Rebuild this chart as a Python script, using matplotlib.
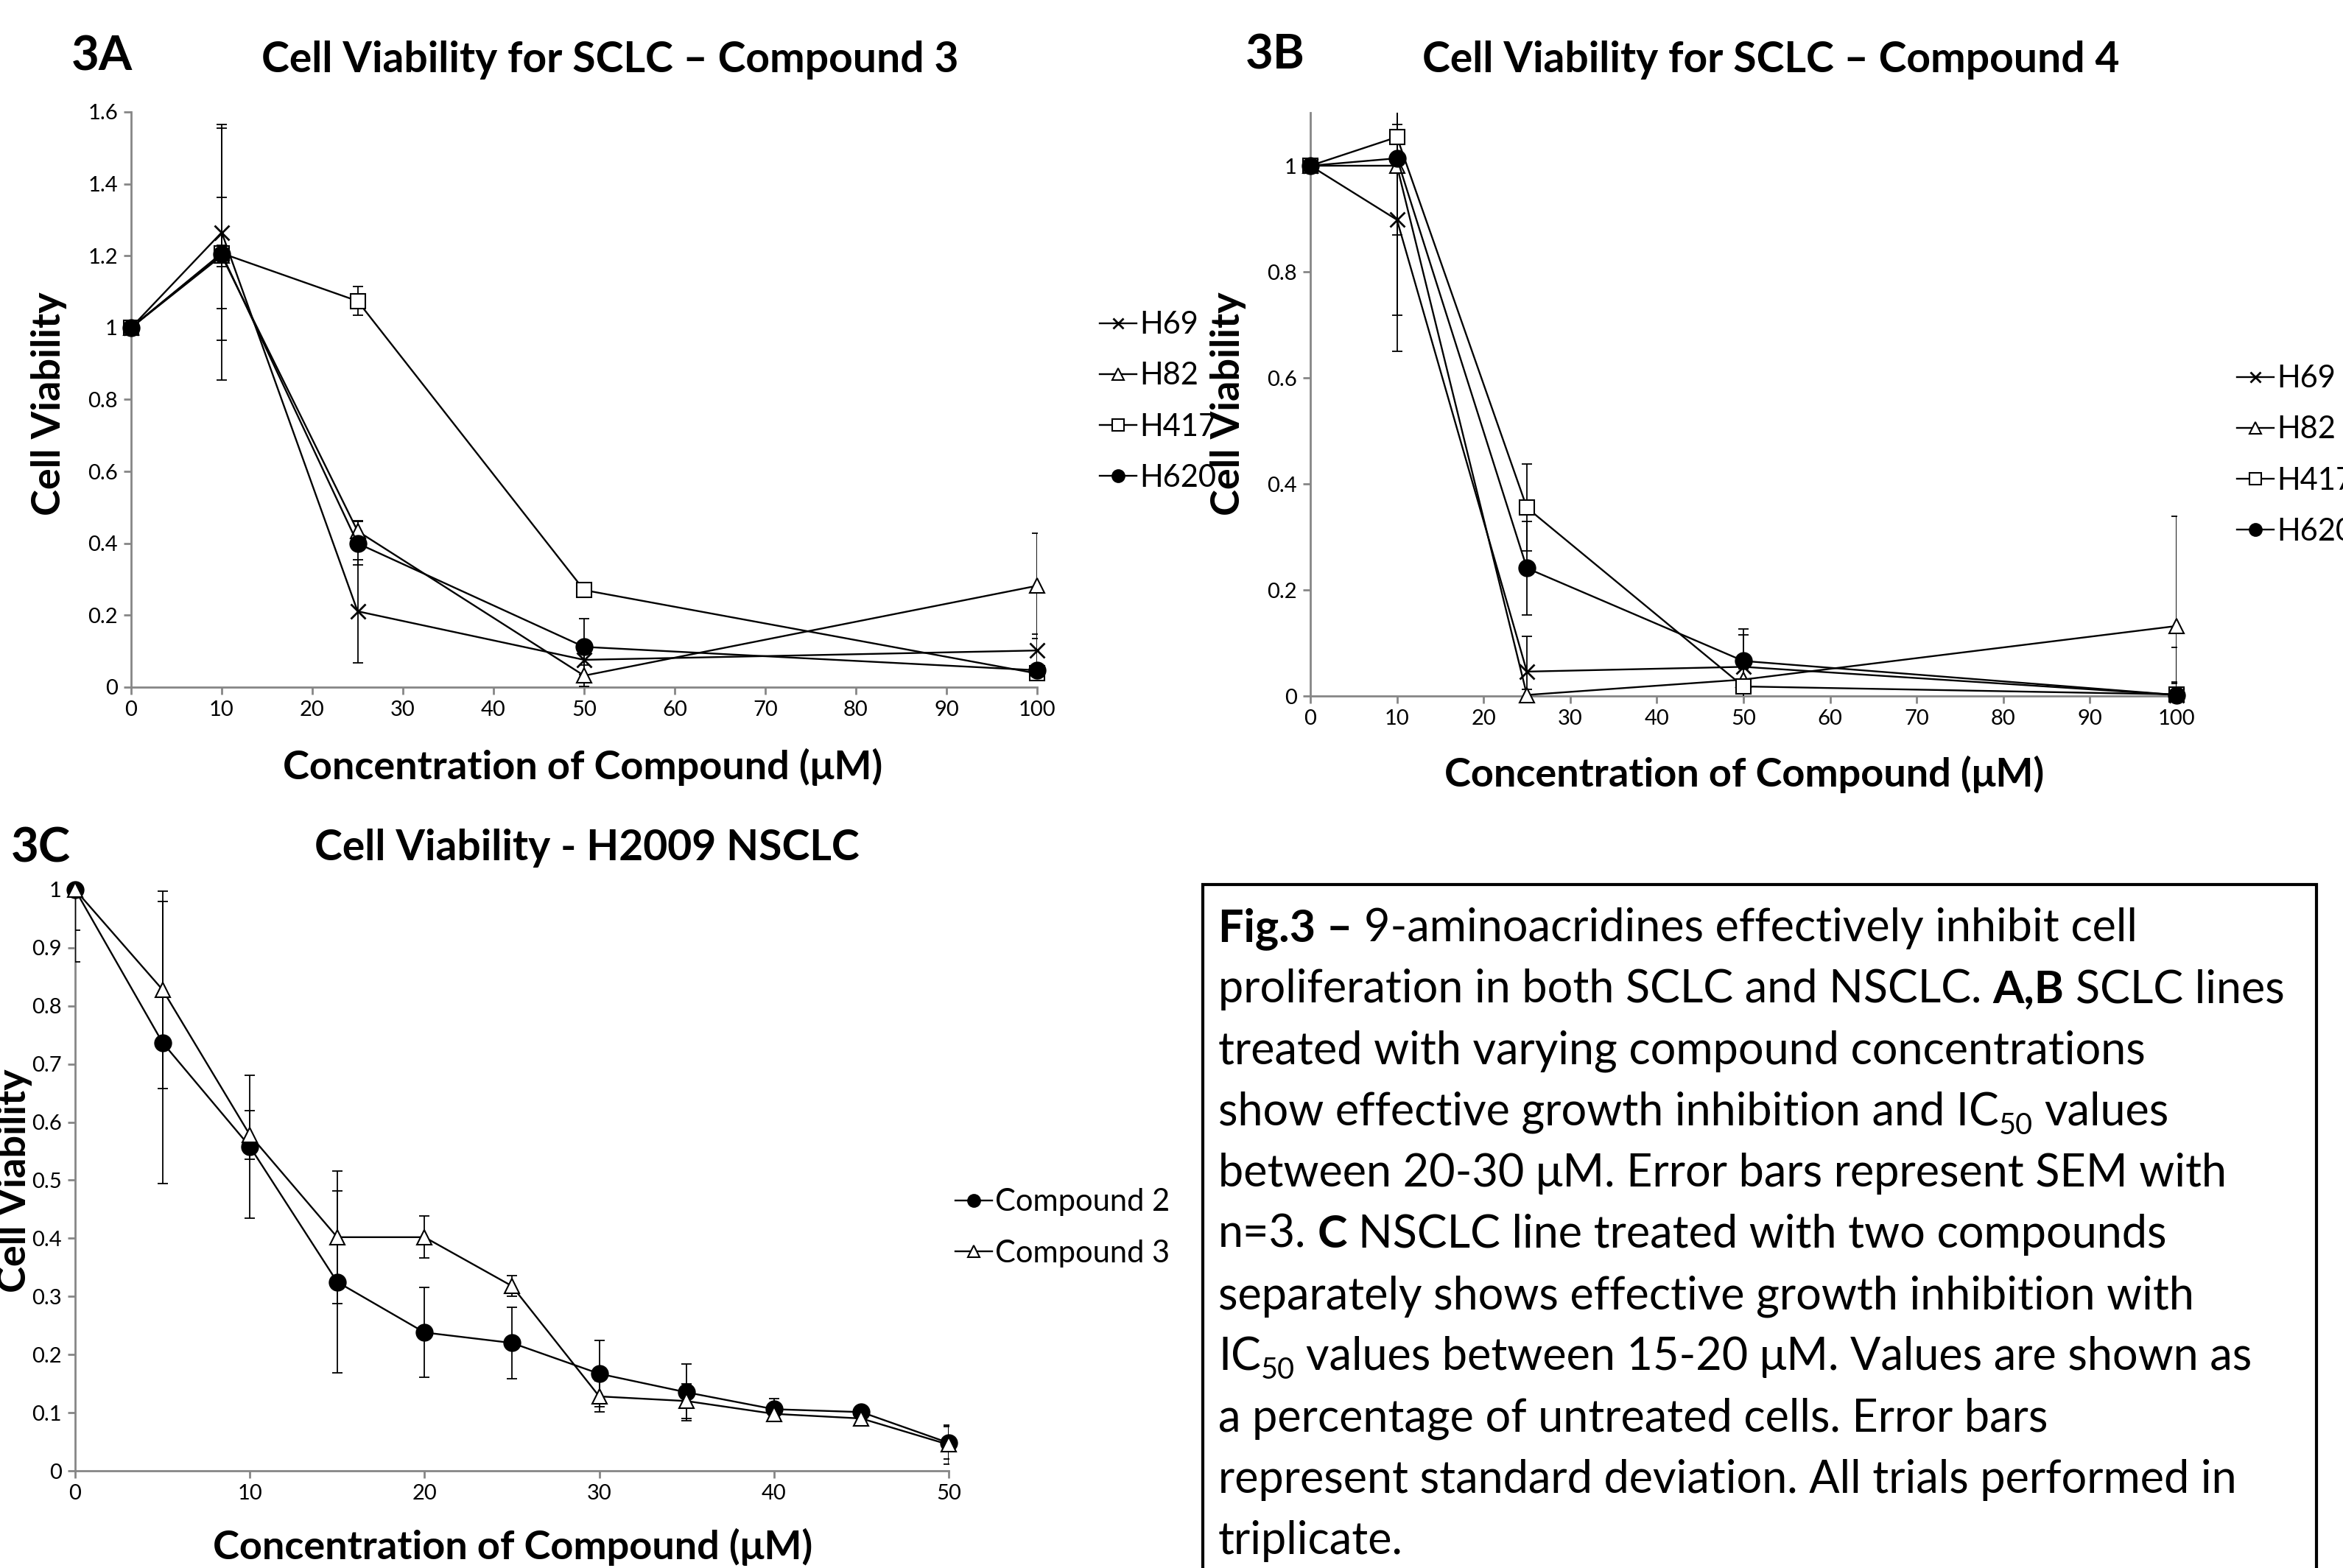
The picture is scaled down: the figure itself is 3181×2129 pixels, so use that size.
import matplotlib
matplotlib.use("Agg")
import matplotlib.pyplot as plt
from matplotlib.patches import Rectangle
from matplotlib.ticker import FuncFormatter, MultipleLocator

plt.rcParams['font.family'] = ['Lato', 'DejaVu Sans']

# --- data: panel 3A (compound 3, SCLC lines) ---
conc_a = [0, 10, 25, 50, 100]
h69_a = [1.0, 1.265, 0.211, 0.076, 0.102]
h69_a_err = [0, 0.30, 0.143, 0.05, 0.045]
h82_a = [1.0, 1.20, 0.434, 0.032, 0.282]
h82_a_err = [0, 0.03, 0.03, 0.03, 0.146]
h417_a = [1.0, 1.207, 1.074, 0.27, 0.038]
h417_a_err = [0, 0.155, 0.04, 0.02, 0.01]
h620_a = [1.0, 1.205, 0.40, 0.112, 0.047]
h620_a_err = [0, 0.35, 0.06, 0.078, 0.01]

# --- data: panel 3B (compound 4, SCLC lines) ---
conc_b = [0, 10, 25, 50, 100]
h69_b = [1.0, 0.898, 0.046, 0.055, 0.002]
h69_b_err = [0, 0.18, 0.067, 0.06, 0.09]
h82_b = [1.0, 1.0, 0.002, 0.031, 0.132]
h82_b_err = [0, 0.35, 0.01, 0.02, 0.207]
h417_b = [1.0, 1.054, 0.355, 0.018, 0.003]
h417_b_err = [0, 0.05, 0.082, 0.01, 0.02]
h620_b = [1.0, 1.014, 0.241, 0.066, 0.002]
h620_b_err = [0, 0.145, 0.088, 0.06, 0.025]

# --- data: panel 3C (H2009 NSCLC) ---
conc_c = [0, 5, 10, 15, 20, 25, 30, 35, 40, 45, 50]
cmp2 = [1.0, 0.737, 0.558, 0.325, 0.238, 0.22, 0.167, 0.135, 0.106, 0.101, 0.048]
cmp2_err = [0.07, 0.243, 0.123, 0.157, 0.077, 0.062, 0.057, 0.049, 0.018, 0.005, 0.028]
cmp3 = [1.0, 0.828, 0.578, 0.402, 0.402, 0.318, 0.128, 0.12, 0.098, 0.09, 0.045]
cmp3_err = [0.124, 0.17, 0.042, 0.114, 0.036, 0.018, 0.026, 0.03, 0.008, 0.005, 0.033]

cell_lines = ["H69", "H82", "H417", "H620"]
compounds = ["Compound 2", "Compound 3"]

# caption lines as (text, style) runs: b = bold, n = normal, s = subscript
caption = [
    [("Fig.3 –", "b"), (" 9-aminoacridines effectively inhibit cell", "n")],
    [("proliferation in both SCLC and NSCLC. ", "n"), ("A,B", "b"), (" SCLC lines", "n")],
    [("treated with varying compound concentrations", "n")],
    [("show effective growth inhibition and IC", "n"), ("50", "s"), (" values", "n")],
    [("between 20-30 μM. Error bars represent SEM with", "n")],
    [("n=3. ", "n"), ("C", "b"), (" NSCLC line treated with two compounds", "n")],
    [("separately shows effective growth inhibition with", "n")],
    [("IC", "n"), ("50", "s"), (" values between 15-20 μM. Values are shown as", "n")],
    [("a percentage of untreated cells. Error bars", "n")],
    [("represent standard deviation. All trials performed in", "n")],
    [("triplicate.", "n")],
]

W, H = 3181, 2129
fig = plt.figure(figsize=(W / 100, H / 100), dpi=100)


def fx(px):
    return px / W


def fy(px):
    return 1 - px / H


def axes_px(left, top, right, bottom):
    return fig.add_axes([fx(left), fy(bottom), (right - left) / W, (bottom - top) / H])


styles = [
    dict(marker='x', ms=14, mew=2, mfc='k'),
    dict(marker='^', ms=15, mew=1.5, mfc='white'),
    dict(marker='s', ms=15, mew=1.5, mfc='white'),
    dict(marker='o', ms=16, mew=1.5, mfc='k'),
]

GRAY = '#868686'
fmt = FuncFormatter(lambda v, p: f"{v:g}")


def style_axes(ax):
    for s in ['top', 'right']:
        ax.spines[s].set_visible(False)
    for s in ['left', 'bottom']:
        ax.spines[s].set_color(GRAY)
        ax.spines[s].set_linewidth(2)
    ax.tick_params(colors=GRAY, labelcolor='k', labelsize=21, length=7, width=2,
                   direction='out', pad=6)
    ax.yaxis.set_major_formatter(fmt)


def draw_series(ax, x, ys, errs, sty):
    handles = []
    for y, e, st in zip(ys, errs, sty):
        ax.errorbar(x, y, yerr=e, fmt='none', ecolor='k', elinewidth=1.3, capsize=5,
                    capthick=1.3, zorder=3)
        h, = ax.plot(x, y, color='k', lw=1.7, mec='k', clip_on=False, zorder=4, **st)
        handles.append(h)
    return handles


# Panel 3A
ax_a = axes_px(178, 152, 1408, 933)
ha = draw_series(ax_a, conc_a, [h69_a, h82_a, h417_a, h620_a],
                 [h69_a_err, h82_a_err, h417_a_err, h620_a_err], styles)
ax_a.set_xlim(0, 100)
ax_a.set_ylim(0, 1.6)
ax_a.xaxis.set_major_locator(MultipleLocator(10))
ax_a.yaxis.set_major_locator(MultipleLocator(0.2))
style_axes(ax_a)

# Panel 3B
ax_b = axes_px(1779, 153, 2955, 945)
hb = draw_series(ax_b, conc_b, [h69_b, h82_b, h417_b, h620_b],
                 [h69_b_err, h82_b_err, h417_b_err, h620_b_err], styles)
ax_b.set_xlim(0, 100)
ax_b.set_ylim(0, 1.1)
ax_b.xaxis.set_major_locator(MultipleLocator(10))
ax_b.yaxis.set_major_locator(MultipleLocator(0.2))
style_axes(ax_b)

# Panel 3C
ax_c = axes_px(102, 1208, 1288, 1997)
hc = draw_series(ax_c, conc_c, [cmp2, cmp3], [cmp2_err, cmp3_err], [styles[3], styles[1]])
ax_c.set_xlim(0, 50)
ax_c.set_ylim(0, 1.0)
ax_c.xaxis.set_major_locator(MultipleLocator(10))
ax_c.yaxis.set_major_locator(MultipleLocator(0.1))
style_axes(ax_c)

# legends
leg_kw = dict(frameon=False, fontsize=30, handlelength=1.2, handletextpad=0.1,
              labelspacing=0.75, borderpad=0, markerscale=0.75)
fig.legend(ha, cell_lines, loc='center left', bbox_to_anchor=(fx(1472), fy(545)), **leg_kw)
fig.legend(hb, cell_lines, loc='center left', bbox_to_anchor=(fx(3016), fy(618)), **leg_kw)
fig.legend(hc, compounds, loc='center left', bbox_to_anchor=(fx(1276), fy(1667)), **leg_kw)

# titles and labels
tkw = dict(fontsize=41, fontweight='bold', ha='center', va='center')
lkw = dict(fontsize=39, fontweight='bold', ha='center', va='center')
fig.text(fx(138), fy(77), "3A", **{**tkw, 'fontsize': 47})
fig.text(fx(1731), fy(75), "3B", **{**tkw, 'fontsize': 47})
fig.text(fx(55), fy(1152), "3C", **{**tkw, 'fontsize': 47})
fig.text(fx(828), fy(81), "Cell Viability for SCLC – Compound 3", **tkw)
fig.text(fx(2404), fy(81), "Cell Viability for SCLC – Compound 4", **tkw)
fig.text(fx(797), fy(1152), "Cell Viability - H2009 NSCLC", **tkw)

fig.text(fx(791), fy(1041), "Concentration of Compound (μM)", **lkw)
fig.text(fx(2368), fy(1051), "Concentration of Compound (μM)", **lkw)
fig.text(fx(696), fy(2100), "Concentration of Compound (μM)", **lkw)
fig.text(fx(67), fy(548), "Cell Viability", rotation=90, **lkw)
fig.text(fx(1668), fy(548), "Cell Viability", rotation=90, **lkw)
fig.text(fx(20), fy(1603), "Cell Viability", rotation=90, **lkw)

# caption box
fig.patches.append(Rectangle((fx(1633), fy(2200)), (3145 - 1633) / W, (2200 - 1201) / H,
                             transform=fig.transFigure, fill=False, ec='k', lw=3))

CAP_FS = 44
space_px = 0.25 * CAP_FS * 100 / 72
renderer = fig.canvas.get_renderer()
for i, runs in enumerate(caption):
    ybase = 1262 + i * 83.2 + 16  # baseline in pixels
    x = 1654.0
    for txt, kind in runs:
        lead = txt.startswith(" ")
        trail = txt.endswith(" ")
        txt = txt.strip()
        if lead:
            x += space_px
        if kind == "s":
            t = fig.text(fx(x), fy(ybase + 12), txt, fontsize=CAP_FS * 0.65, va='baseline')
        else:
            t = fig.text(fx(x), fy(ybase), txt, fontsize=CAP_FS, va='baseline',
                         fontweight='bold' if kind == "b" else 'normal')
        bb = t.get_window_extent(renderer)
        x = bb.x1
        if trail:
            x += space_px

fig.savefig("out.png", dpi=100)
